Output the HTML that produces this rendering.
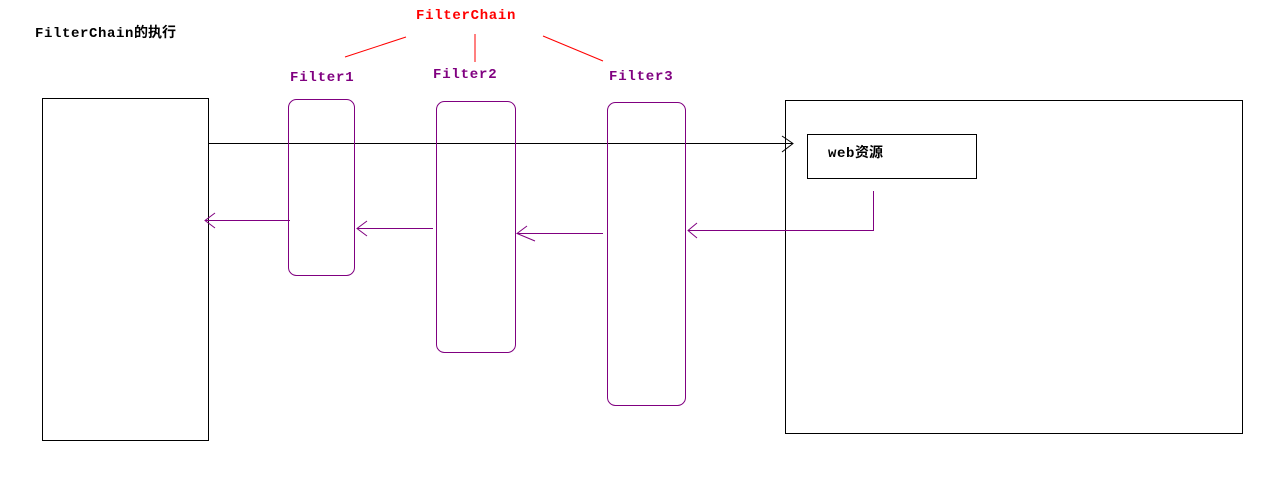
<!DOCTYPE html>
<html><head><meta charset="utf-8"><style>body{margin:0;background:#fff}svg{display:block}</style></head><body>
<svg width="1263" height="499" xmlns="http://www.w3.org/2000/svg" font-family="Liberation Mono, 'Noto Sans CJK SC', monospace" font-weight="bold" font-size="14">
<rect width="1263" height="499" fill="#fff"/>
<text x="35" y="37" fill="#000" letter-spacing="0.6">FilterChain<tspan font-family="'Noto Sans CJK SC', sans-serif" letter-spacing="0">的执行</tspan></text>
<text x="416" y="19" fill="#f00" letter-spacing="0.7">FilterChain</text>
<g stroke="#f00" stroke-width="1"><line x1="345" y1="57" x2="406" y2="37"/><line x1="475" y1="34" x2="475" y2="62"/><line x1="543" y1="36" x2="603" y2="61"/></g>
<g fill="#800080" letter-spacing="0.8"><text x="290" y="81">Filter1</text><text x="433" y="78">Filter2</text><text x="609" y="80">Filter3</text></g>
<g fill="none" stroke="#000" stroke-width="1">
<rect x="42.5" y="98.5" width="166" height="342"/>
<rect x="785.5" y="100.5" width="457" height="333"/>
<rect x="807.5" y="134.5" width="169" height="44"/>
<line x1="208" y1="143.5" x2="793" y2="143.5"/>
<polyline points="782,136 793,143.5 782,152"/>
</g>
<text x="828" y="157" fill="#000" letter-spacing="0.6">web<tspan font-family="'Noto Sans CJK SC', sans-serif" letter-spacing="0">资源</tspan></text>
<g fill="none" stroke="#800080" stroke-width="1">
<rect x="288.5" y="99.5" width="66" height="176" rx="8"/>
<rect x="436.5" y="101.5" width="79" height="251" rx="8"/>
<rect x="607.5" y="102.5" width="78" height="303" rx="8"/>
<polyline points="873.5,191 873.5,230.5 688,230.5"/>
<polyline points="697,223 688,230.5 697,238"/>
<line x1="603" y1="233.5" x2="517" y2="233.5"/><polyline points="527,226 517,233.5 535,241"/>
<line x1="433" y1="228.5" x2="357" y2="228.5"/><polyline points="367,221 357,228.5 367,236"/>
<line x1="290" y1="220.5" x2="205" y2="220.5"/><polyline points="215,213 205,220.5 215,228"/>
</g>
</svg>
</body></html>
